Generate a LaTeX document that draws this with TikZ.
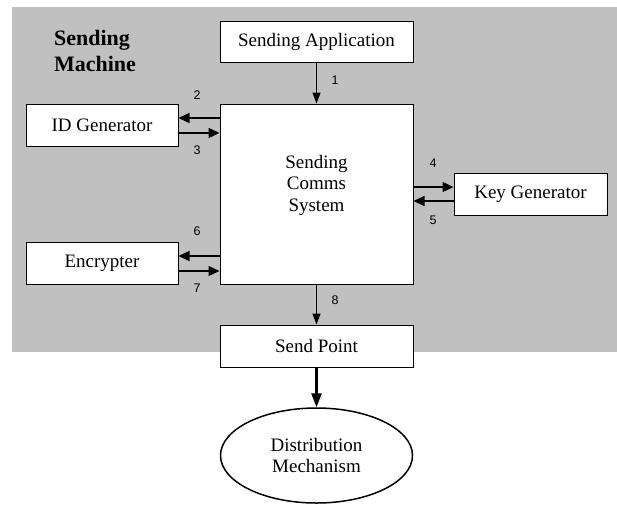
\documentclass[tikz,border=0pt]{standalone}
\usepackage{fontspec}
\setmainfont{Liberation Serif}
\newfontfamily\numfont{Liberation Sans}
\usetikzlibrary{positioning, calc, arrows.meta, shapes.geometric}
\definecolor{machgray}{RGB}{192,192,192}

\begin{document}
\begin{tikzpicture}[x=1pt,y=-1pt,box/.style={draw, fill=white, line width=1pt, inner sep=0pt, font=\fontsize{19}{21.5}\selectfont},flow/.style={line width=1.3pt, -{Triangle[length=11pt,width=10pt]}},downflow/.style={line width=1.3pt, -{Triangle[length=11pt,width=8pt]}},numlab/.style={font=\numfont\fontsize{12.5}{14}\selectfont}]
\useasboundingbox (0,0) rectangle (617,504);
\fill[machgray] (12,7) rectangle (617,352);
\node[font=\bfseries\fontsize{22}{26}\selectfont, align=left] (mach) at (95,51) {Sending\\Machine};
\node[box, minimum width=193, minimum height=41] (app) at (316.5,41.5) {Sending Application};
\node[box, minimum width=193, minimum height=180] (comms) at (316.5,194) {};
\node[align=center, font=\fontsize{19}{21.5}\selectfont] (commstext) at (316.5,185) {Sending\\Comms\\System};
\node[box, minimum width=152, minimum height=42] (idgen) at (102,125) {ID Generator};
\node[box, minimum width=152, minimum height=42] (enc) at (102,263) {Encrypter};
\node[box, minimum width=153, minimum height=42] (keygen) at (530.5,194) {Key Generator};
\node[box, minimum width=193, minimum height=42] (send) at (316.5,346) {Send Point};
\node[ellipse, draw, line width=1.5pt, minimum width=192, minimum height=95, align=center, font=\fontsize{19}{21.5}\selectfont] (dist) at (316.5,455.5) {Distribution\\Mechanism};
\draw[downflow] (app.south) -- (comms.north); \draw[downflow] (comms.south) -- (send.north); \draw[line width=2.6pt, -{Triangle[length=14pt,width=10pt]}] (send.south) -- (dist.north);
\draw[flow] ($(idgen.east -| comms.west)+(0,-7)$) -- ($(idgen.east)+(0,-7)$); \draw[flow] ($(idgen.east)+(0,8)$) -- ($(idgen.east -| comms.west)+(0,8)$);
\draw[flow] ($(enc.east -| comms.west)+(0,-7)$) -- ($(enc.east)+(0,-7)$); \draw[flow] ($(enc.east)+(0,8)$) -- ($(enc.east -| comms.west)+(0,8)$);
\draw[flow] ($(keygen.west -| comms.east)+(0,-7)$) -- ($(keygen.west)+(0,-7)$); \draw[flow] ($(keygen.west)+(0,7)$) -- ($(keygen.west -| comms.east)+(0,7)$);
\node[numlab] (n1) at (335,80) {1}; \node[numlab] (n8) at (335,300) {8};
\node[numlab] (n2) at (197,95) {2}; \node[numlab] (n3) at (197,150) {3};
\node[numlab] (n6) at (197,231) {6}; \node[numlab] (n7) at (197,288) {7};
\node[numlab] (n4) at (433,163) {4}; \node[numlab] (n5) at (433,220) {5};
\end{tikzpicture}
\end{document}
